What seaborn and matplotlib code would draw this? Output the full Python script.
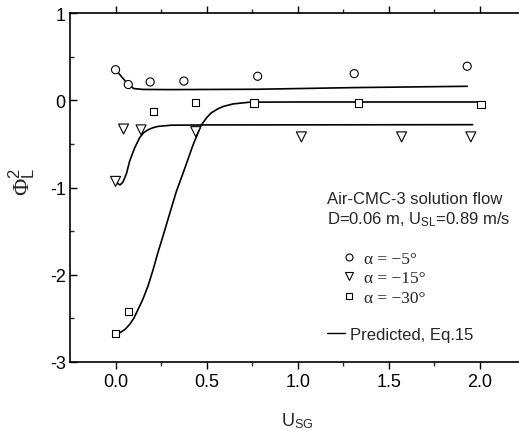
import numpy as np
import pandas as pd
import matplotlib
matplotlib.use("Agg")
import matplotlib.pyplot as plt
from matplotlib.lines import Line2D
from matplotlib.ticker import MultipleLocator, FixedLocator
import seaborn as sns

# Measured two-phase multiplier, Air-CMC-3 solution, D=0.06 m, U_SL=0.89 m/s
usg_5 = [0.0, 0.07, 0.19, 0.375, 0.78, 1.31, 1.93]
phi_5 = [0.35, 0.18, 0.21, 0.22, 0.275, 0.305, 0.39]

usg_15 = [0.0, 0.044, 0.14, 0.44, 1.02, 1.57, 1.95]
phi_15 = [-0.93, -0.33, -0.34, -0.36, -0.42, -0.42, -0.42]

usg_30 = [0.0, 0.07, 0.21, 0.44, 0.76, 1.335, 2.005]
phi_30 = [-2.67, -2.42, -0.13, -0.023, -0.03, -0.03, -0.05]

# Predicted curves (Eq.15)
pred_usg_5 = [0.0, 0.07, 0.10, 0.15, 0.30, 0.78, 1.31, 1.93]
pred_phi_5 = [0.35, 0.18, 0.134, 0.124, 0.122, 0.126, 0.145, 0.16]

pred_usg_15 = [0.005, 0.015, 0.025, 0.04, 0.06, 0.077, 0.104, 0.132, 0.155, 0.177, 0.205,
               0.232, 0.305, 0.49, 1.96]
pred_phi_15 = [-0.93, -0.96, -0.97, -0.94, -0.84, -0.70, -0.55, -0.43, -0.37, -0.34, -0.315,
               -0.30, -0.286, -0.283, -0.28]

pred_usg_30 = [0.022, 0.05, 0.077, 0.10, 0.123, 0.15, 0.178, 0.205, 0.232, 0.26, 0.287,
               0.333, 0.38, 0.425, 0.47, 0.50, 0.525, 0.56, 0.59, 0.645, 0.736, 1.0, 2.0]
pred_phi_30 = [-2.666, -2.63, -2.57, -2.50, -2.40, -2.28, -2.13, -1.95, -1.75, -1.56, -1.37,
               -1.05, -0.78, -0.514, -0.286, -0.20, -0.145, -0.10, -0.072, -0.042, -0.022,
               -0.02, -0.02]

angle_labels = ["α = −5°", "α = −15°", "α = −30°"]

sns.set_style("ticks")
plt.rcParams["font.family"] = ["Liberation Sans", "DejaVu Sans"]
plt.rcParams["axes.unicode_minus"] = False
plt.rcParams["mathtext.fontset"] = "custom"
plt.rcParams["mathtext.rm"] = "Liberation Serif"
plt.rcParams["mathtext.sf"] = "Liberation Sans"
plt.rcParams["mathtext.it"] = "Liberation Serif:italic"

meas = pd.DataFrame({
    "usg": usg_5 + usg_15 + usg_30,
    "phi": phi_5 + phi_15 + phi_30,
    "angle": ["a5"] * len(usg_5) + ["a15"] * len(usg_15) + ["a30"] * len(usg_30),
})
pred = pd.DataFrame({
    "usg": pred_usg_5 + pred_usg_15 + pred_usg_30,
    "phi": pred_phi_5 + pred_phi_15 + pred_phi_30,
    "angle": ["a5"] * len(pred_usg_5) + ["a15"] * len(pred_usg_15) + ["a30"] * len(pred_usg_30),
})

fig = plt.figure(figsize=(5.19, 4.31), dpi=100)
ax = fig.add_axes([70 / 519, 68 / 431, 455.5 / 519, 349 / 431])

sns.lineplot(data=pred, x="usg", y="phi", units="angle", estimator=None, sort=False,
             color="black", linewidth=1.2, ax=ax, legend=False)
sns.scatterplot(data=meas, x="usg", y="phi", style="angle",
                markers={"a5": "o", "a15": "v", "a30": "s"},
                size="angle", sizes={"a5": 34, "a15": 52, "a30": 28},
                facecolor="white", edgecolor="black", linewidth=0.8,
                ax=ax, legend=False, zorder=3)

ax.set_xlim(-0.25, 2.25)
ax.set_ylim(-3, 1)
ax.xaxis.set_major_locator(FixedLocator([0.0, 0.5, 1.0, 1.5, 2.0]))
ax.xaxis.set_minor_locator(FixedLocator([0.25, 0.75, 1.25, 1.75, 2.25]))
ax.set_xticklabels(["0.0", "0.5", "1.0", "1.5", "2.0"])
ax.yaxis.set_minor_locator(MultipleLocator(0.5))
ax.set_yticks([-3, -2, -1, 0, 1])
ax.set_yticklabels(["-3", "-2", "-1", "0", "1"])

ax.tick_params(axis="both", which="major", direction="out", length=5, width=1,
               labelsize=13, pad=3, colors="black")
ax.tick_params(axis="both", which="minor", direction="out", length=3, width=1)
ax.tick_params(top=True, which="both", direction="in")
ax.tick_params(axis="x", which="major", top=True, length=3)
ax.tick_params(axis="x", which="major", bottom=True, direction="out", length=5)
ax.tick_params(axis="x", which="minor", bottom=True, direction="out", length=3)
ax.spines["right"].set_visible(False)
for s in ["left", "bottom", "top"]:
    ax.spines[s].set_linewidth(1.2)
    ax.spines[s].set_color("black")

ax.set_xlabel(r"U$_{\mathsf{SG}}$", fontsize=13)
ax.set_ylabel(r"$\Phi_{\mathsf{L}}^{\mathsf{2}}$", fontsize=17)
ax.xaxis.set_label_coords((297 - 70) / 455.5, -48 / 349)
ax.yaxis.set_label_coords(-33 / 455.5, (363 - 182) / 349)

fig.text(327 / 519, 1 - 204 / 431, "Air-CMC-3 solution flow", fontsize=12, va="baseline")
fig.text(327 / 519, 1 - 225 / 431, r"D=0.06 m, U$_{\mathsf{SL}}$=0.89 m/s", fontsize=12,
         va="baseline")

marker_handles = [
    Line2D([], [], linestyle="none", marker="o", markersize=5, markerfacecolor="white",
           markeredgecolor="black", markeredgewidth=0.8),
    Line2D([], [], linestyle="none", marker="v", markersize=6, markerfacecolor="white",
           markeredgecolor="black", markeredgewidth=0.8),
    Line2D([], [], linestyle="none", marker="s", markersize=4.5, markerfacecolor="white",
           markeredgecolor="black", markeredgewidth=0.8),
]
leg1 = fig.legend(marker_handles, angle_labels,
                  loc="upper left", bbox_to_anchor=(340 / 519, 1 - 252 / 431),
                  frameon=False, borderpad=0, borderaxespad=0, handlelength=1.0,
                  handletextpad=0.4, labelspacing=0.18,
                  prop={"family": "Liberation Serif", "size": 12.5})
leg2 = fig.legend([Line2D([], [], color="black", linewidth=1.0)], ["Predicted, Eq.15"],
                  loc="upper left", bbox_to_anchor=(327 / 519, 1 - 328 / 431),
                  frameon=False, borderpad=0, borderaxespad=0, handlelength=1.1,
                  handletextpad=0.25, prop={"family": "Liberation Sans", "size": 12})

fig.savefig("out.png", dpi=100)
